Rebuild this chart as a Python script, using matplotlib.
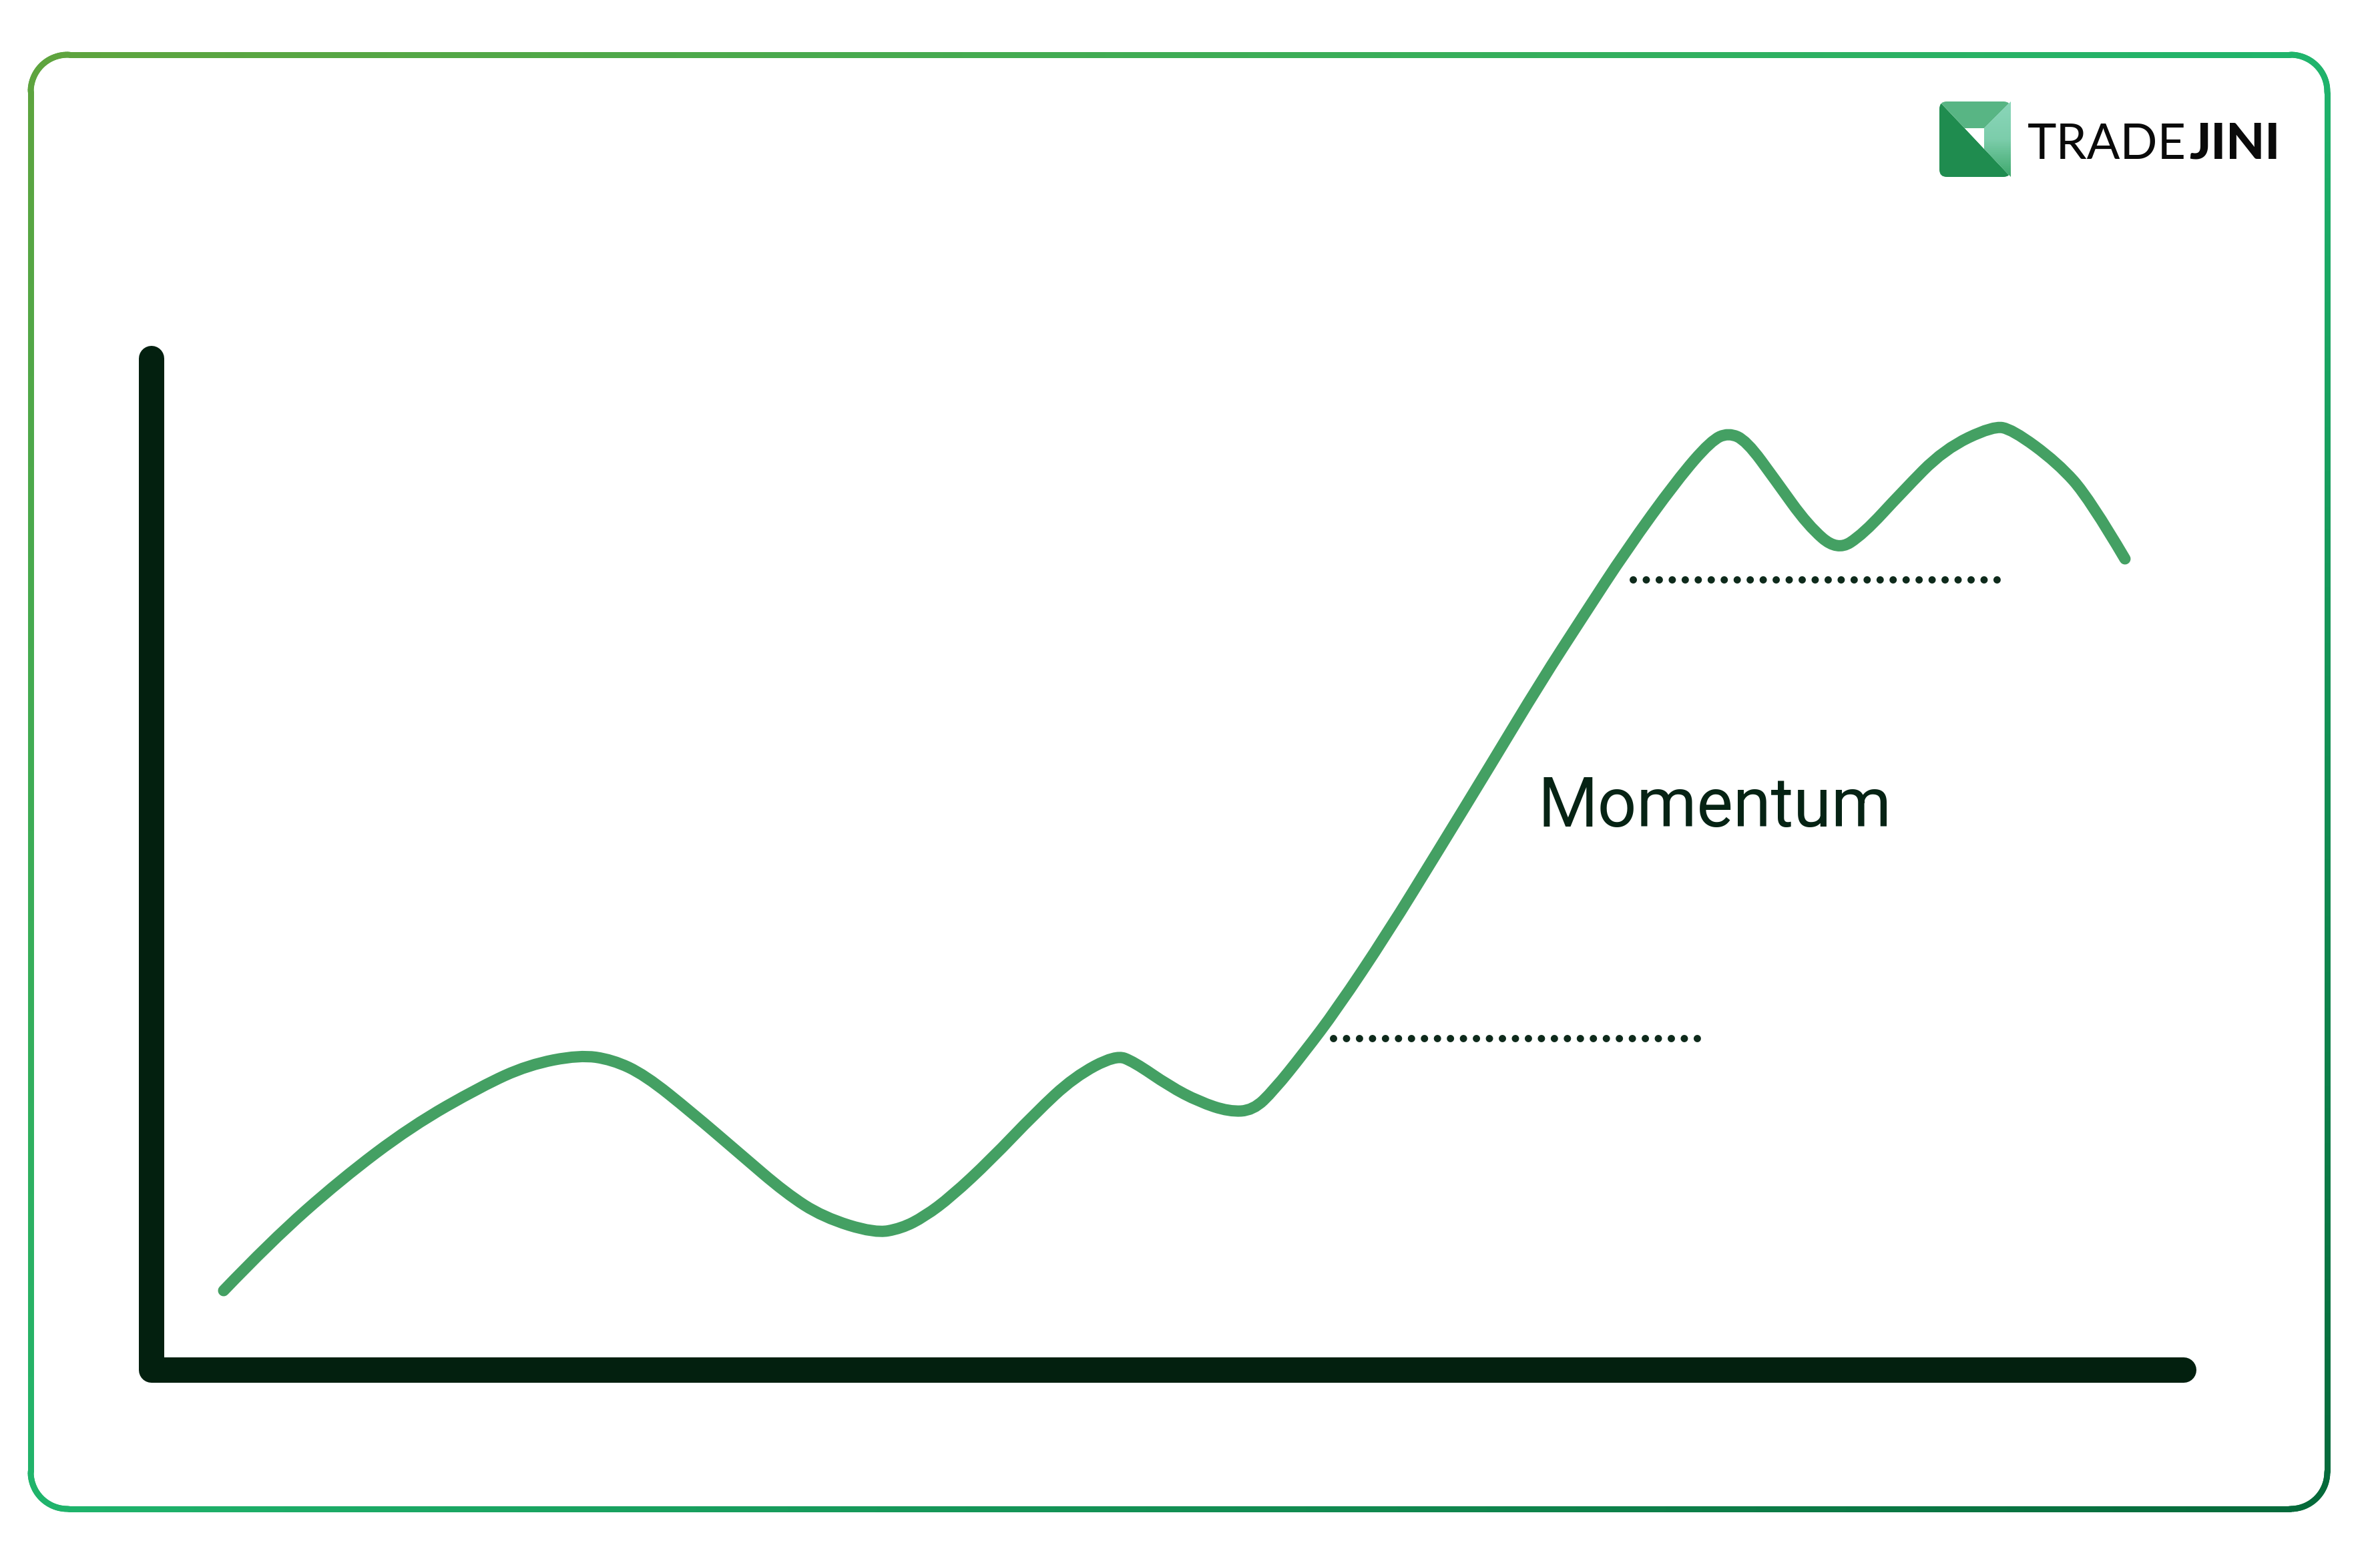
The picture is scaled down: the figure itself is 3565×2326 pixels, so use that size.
import numpy as np
import matplotlib
matplotlib.use("Agg")
import matplotlib.pyplot as plt
from matplotlib.path import Path
from matplotlib.patches import PathPatch, FancyBboxPatch, Polygon
from matplotlib.collections import LineCollection
from matplotlib.colors import LinearSegmentedColormap

# tamaño de la imagen en pixeles
W, H = 3565, 2326
PT = 0.72  # pixeles -> puntos (dpi 100)

# curva de precio (coordenadas de la imagen, y hacia abajo)
precio_x = [335, 405, 510, 616, 721, 791, 868, 917, 966, 1037, 1107, 1177, 1233,
            1310, 1350, 1385, 1425, 1484, 1551, 1609, 1671, 1698, 1752, 1796, 1841, 1877,
            1908, 1953, 2002, 2078, 2155, 2232, 2308, 2372, 2436, 2512, 2563, 2589,
            2616, 2660, 2708, 2752, 2791, 2849, 2912, 2985, 3014, 3082, 3130, 3183]
precio_y = [1933, 1860, 1767, 1687, 1627, 1595, 1580, 1587, 1610, 1667, 1727, 1787, 1823,
            1847, 1840, 1822, 1792, 1737, 1667, 1613, 1580, 1590, 1627, 1650, 1665, 1663,
            1633, 1577, 1512, 1398, 1273, 1147, 1021, 922, 824, 719, 660, 648,
            660, 720, 787, 825, 800, 737, 673, 638, 643, 693, 747, 837]

# niveles punteados
soporte_x = [1997, 2542]
soporte_y = [1555, 1555]
resistencia_x = [2446, 2995]
resistencia_y = [868, 868]

# ejes dibujados
eje_x = [227, 227, 3271]
eje_y = [537, 2052, 2052]

etiqueta = "Momentum"


def camino_suave(xs, ys):
    pts = np.column_stack([xs, ys]).astype(float)
    verts = [pts[0]]
    codes = [Path.MOVETO]
    for i in range(1, len(pts) - 1):
        fin = pts[-1] if i == len(pts) - 2 else (pts[i] + pts[i + 1]) / 2
        verts += [pts[i], fin]
        codes += [Path.CURVE3, Path.CURVE3]
    return Path(verts, codes)


def rect_redondeado(x0, y0, x1, y1, r, n=4000):
    partes = []
    esquinas = [((x0 + r, y0 + r), 180), ((x1 - r, y0 + r), 270),
                ((x1 - r, y1 - r), 0), ((x0 + r, y1 - r), 90)]
    for (cx, cy), a in esquinas:
        t = np.radians(np.linspace(a, a + 90, 30))
        partes.append(np.column_stack([cx + r * np.cos(t), cy + r * np.sin(t)]))
    pts = np.vstack(partes + [partes[0][:1]])
    d = np.concatenate([[0], np.cumsum(np.hypot(*np.diff(pts, axis=0).T))])
    s = np.linspace(0, d[-1], n)
    return np.column_stack([np.interp(s, d, pts[:, 0]), np.interp(s, d, pts[:, 1])])


fig = plt.figure(figsize=(W / 100, H / 100), dpi=100)
ax = fig.add_axes([0, 0, 1, 1])
ax.axis("off")

# borde con degradado
bx0, by0, bx1, by1 = 46, 82, 3486, 2260
borde = rect_redondeado(bx0, by0, bx1, by1, 55)
segs = np.stack([borde[:-1], borde[1:]], axis=1)
mid = segs.mean(axis=1)
tt = ((mid[:, 0] - bx0) / (bx1 - bx0) + (mid[:, 1] - by0) / (by1 - by0)) / 2
cmap_borde = LinearSegmentedColormap.from_list("borde", ["#5fa43e", "#1fb46c", "#05693a"])
lc = LineCollection(segs, colors=cmap_borde(tt), linewidths=9 * PT, capstyle="round")
ax.add_collection(lc)

# ejes
ax.plot(eje_x, eje_y, color="#03200f", lw=38 * PT, solid_capstyle="round",
        solid_joinstyle="round")

# curva
ax.add_patch(PathPatch(camino_suave(precio_x, precio_y), fill=False,
                       edgecolor="#44a063", lw=17 * PT, capstyle="round",
                       joinstyle="round"))

# lineas punteadas
for xs, ys in [(soporte_x, soporte_y), (resistencia_x, resistencia_y)]:
    ax.plot(xs, ys, color="#0e2a1b", lw=11 * PT, linestyle=(0, (0.001, 19.45 / 11)),
            dash_capstyle="round")

ax.text(2303, 1238, etiqueta, fontsize=74, family="Roboto", fontweight="normal",
        color="#062314", ha="left", va="baseline")

# logo
lx0, ly0, lx1, ly1 = 2905, 152, 3012, 265
caja = FancyBboxPatch((lx0, ly0), lx1 - lx0, ly1 - ly0,
                      boxstyle="round,pad=0,rounding_size=11",
                      facecolor="none", edgecolor="none")
ax.add_patch(caja)
diag = lambda x: ly0 + (x - lx0) * (ly1 - ly0) / (lx1 - lx0)
px, py = 2972, 192
qx = lx0 + (py - ly0) * (lx1 - lx0) / (ly1 - ly0)
caras = [
    ([(lx0, ly0), (lx0, ly1), (lx1, ly1)], "#1f8c4f"),
    ([(lx0, ly0), (lx1, ly0), (px, py), (qx, py)], "#58b584"),
    ([(lx1, ly0), (lx1, ly1), (px, diag(px)), (px, py)], "#7ccdab"),
    ([(qx, py), (px, py), (px, diag(px))], "white"),
]
for pts, c in caras:
    p = Polygon(pts, closed=True, facecolor=c, edgecolor="none")
    ax.add_patch(p)
    p.set_clip_path(caja)
# degradado de la cara derecha
grad = np.linspace(0, 1, 100).reshape(-1, 1)
cm_der = LinearSegmentedColormap.from_list("der", ["#8ad6b9", "#7ccdab", "#3ea86c"])
im = ax.imshow(grad, cmap=cm_der, extent=[px, lx1, ly1, ly0], origin="upper",
               aspect="auto", zorder=1.5)
clip_der = Polygon([(lx1, ly0), (lx1, ly1), (px, diag(px)), (px, py)], closed=True,
                   transform=ax.transData)
im.set_clip_path(clip_der)

ax.text(3037, 238, "TRADE", fontsize=53, family="Lato", fontweight="normal",
        color="#0a0a0a", ha="left", va="baseline")
ax.text(3415, 238, "JINI", fontsize=54, family="Lato", fontweight="black",
        color="#0a0a0a", ha="right", va="baseline")

ax.set_xlim(0, W)
ax.set_ylim(H, 0)
fig.savefig("out.png", dpi=100, facecolor="white")
